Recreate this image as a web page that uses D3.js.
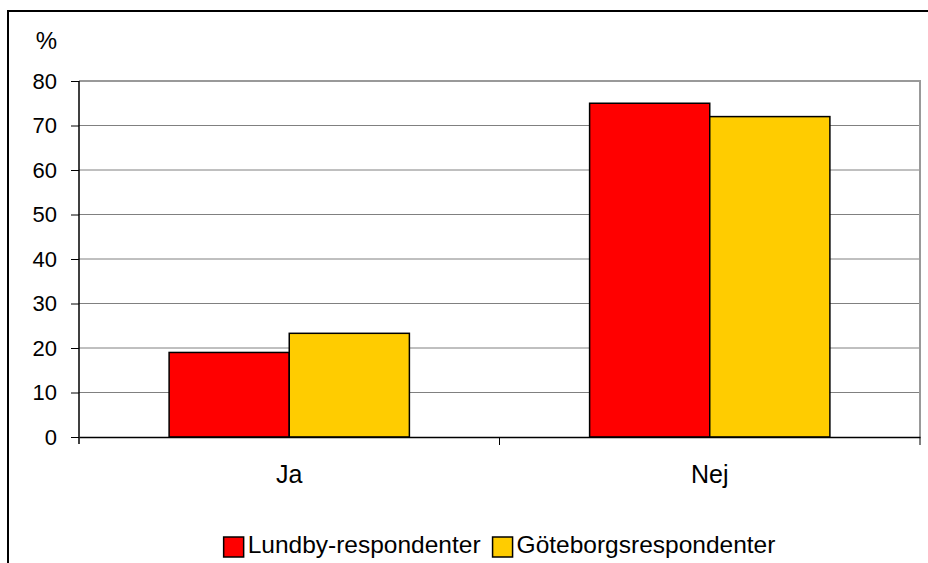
<!DOCTYPE html>
<html>
<head>
<meta charset="utf-8">
<script src="https://cdn.jsdelivr.net/npm/d3@7"></script>
<style>
  body { margin: 0; background: #fff; }
  svg { display: block; font-family: Arial, "Liberation Sans", sans-serif; }
</style>
</head>
<body>
<div id="chart"></div>
<script>
const categories = ['Ja', 'Nej'];
const seriesNames = ['Lundby-respondenter', 'Göteborgsrespondenter'];
const lundby = [19, 75];
const goteborg = [23.3, 72];
const yTicks = [0, 10, 20, 30, 40, 50, 60, 70, 80];
const colors = ['#ff0000', '#ffcc00'];

const width = 928, height = 563;
const plot = { left: 79, right: 920, top: 81, bottom: 437 };

const svg = d3.select('#chart').append('svg')
  .attr('width', width)
  .attr('height', height);

// outer frame (runs off the right and bottom edge)
svg.append('rect')
  .attr('x', 8).attr('y', 11)
  .attr('width', 960).attr('height', 600)
  .attr('fill', 'none')
  .attr('stroke', '#000')
  .attr('stroke-width', 2);

const x0 = d3.scaleBand()
  .domain(categories)
  .range([plot.left, plot.right]);

const x1 = d3.scaleBand()
  .domain(seriesNames)
  .range([0, x0.bandwidth()])
  .paddingOuter(0.75);

const y = d3.scaleLinear()
  .domain([0, 80])
  .range([plot.bottom, plot.top]);

// gridlines
svg.append('g')
  .selectAll('line')
  .data(yTicks.filter(d => d > 0))
  .enter()
  .append('line')
  .attr('x1', plot.left).attr('x2', plot.right)
  .attr('y1', d => y(d)).attr('y2', d => y(d))
  .attr('stroke', '#808080')
  .attr('stroke-width', 1);

// plot border (top/right)
svg.append('path')
  .attr('d', `M${plot.left},${plot.top}H${plot.right}V${plot.bottom}`)
  .attr('fill', 'none')
  .attr('stroke', '#999')
  .attr('stroke-width', 2);

// bars
const rows = categories.map((c, i) => ({ cat: c, values: [lundby[i], goteborg[i]] }));

svg.append('g')
  .selectAll('g')
  .data(rows)
  .enter()
  .append('g')
  .attr('transform', d => `translate(${x0(d.cat)},0)`)
  .selectAll('rect')
  .data(d => d.values.map((v, j) => ({ v, j })))
  .enter()
  .append('rect')
  .attr('x', d => x1(seriesNames[d.j]))
  .attr('y', d => y(d.v))
  .attr('width', x1.bandwidth())
  .attr('height', d => plot.bottom - y(d.v))
  .attr('fill', d => colors[d.j])
  .attr('stroke', '#000')
  .attr('stroke-width', 1.5);

// y axis
const yAxis = svg.append('g')
  .attr('transform', `translate(${plot.left},0)`)
  .call(d3.axisLeft(y).tickValues(yTicks).tickSize(8).tickPadding(14));
yAxis.select('.domain').attr('d', `M0,${plot.top}V${plot.bottom + 7}`).attr('stroke', '#000').attr('stroke-width', 1.5);
yAxis.selectAll('.tick line').attr('stroke', '#000');
yAxis.selectAll('.tick text')
  .attr('font-size', 22)
  .attr('font-family', 'Arial, "Liberation Sans", sans-serif')
  .attr('fill', '#000');

// x axis
const xAxis = svg.append('g')
  .attr('transform', `translate(0,${plot.bottom})`)
  .call(d3.axisBottom(x0).tickSize(0).tickPadding(28));
xAxis.select('.domain').attr('stroke', '#000').attr('stroke-width', 1.5);
xAxis.selectAll('.tick text')
  .attr('font-size', 25)
  .attr('font-family', 'Arial, "Liberation Sans", sans-serif')
  .attr('fill', '#000');

// category separator ticks
xAxis.append('g')
  .selectAll('line')
  .data([categories[1]])
  .enter()
  .append('line')
  .attr('x1', d => x0(d)).attr('x2', d => x0(d))
  .attr('y1', 0).attr('y2', 8)
  .attr('stroke', '#000');
xAxis.append('line')
  .attr('x1', plot.right).attr('x2', plot.right)
  .attr('y1', 0).attr('y2', 8)
  .attr('stroke', '#000');

// unit label
svg.append('text')
  .attr('x', 57).attr('y', 49)
  .attr('text-anchor', 'end')
  .attr('font-size', 24)
  .text('%');

// legend, centred under the plot
const legend = svg.append('g');
const keySize = 20, keyGap = 4, itemGap = 12;
let lx = 0;
const items = seriesNames.map((name, i) => {
  const g = legend.append('g').attr('transform', `translate(${lx},0)`);
  g.append('rect')
    .attr('x', 0).attr('y', 537)
    .attr('width', keySize).attr('height', keySize)
    .attr('fill', colors[i])
    .attr('stroke', '#000')
    .attr('stroke-width', 1.5);
  const t = g.append('text')
    .attr('x', keySize + keyGap).attr('y', 553)
    .attr('font-size', 24.5)
    .text(name);
  lx += keySize + keyGap + t.node().getComputedTextLength() + itemGap;
  return g;
});
const legendWidth = lx - itemGap;
legend.attr('transform', `translate(${(plot.left + plot.right) / 2 - legendWidth / 2},0)`);
</script>
</body>
</html>
